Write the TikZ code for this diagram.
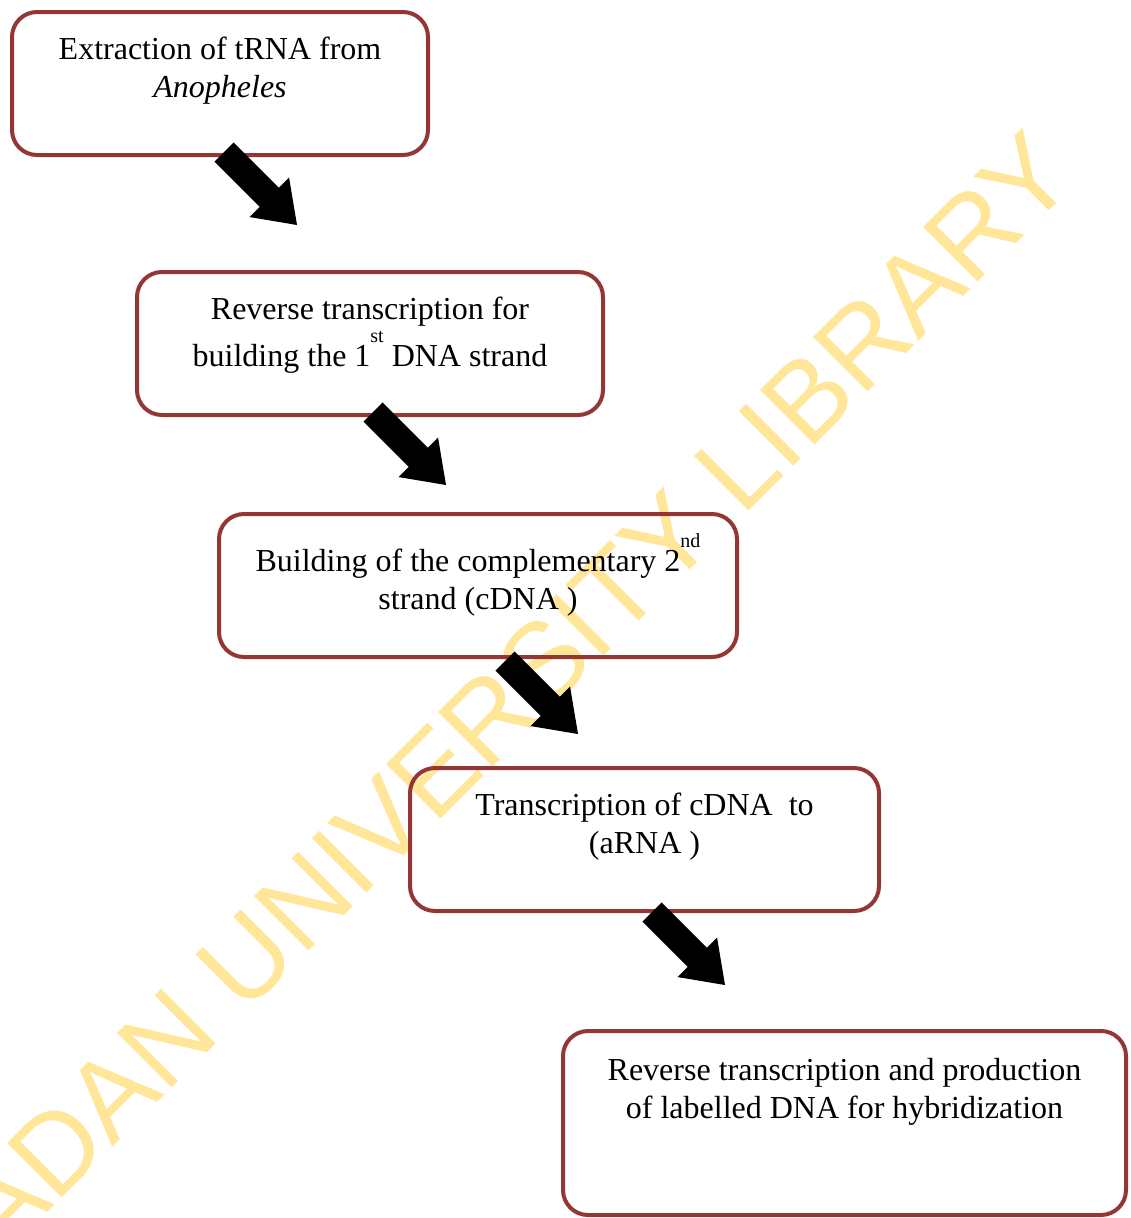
\documentclass[tikz,border=0pt]{standalone}
\usepackage{fontspec}
\setmainfont{Liberation Serif}
\newfontfamily\wmfont{Liberation Sans}
\usetikzlibrary{calc}
\definecolor{boxred}{HTML}{943634}
\definecolor{wmyellow}{HTML}{FFE699}
\tikzset{
  flowbox/.style={draw=boxred, line width=4pt, rounded corners=25pt, inner sep=0pt, outer sep=0pt, minimum height=143pt},
  boxtext/.style={anchor=base, inner sep=0pt, outer sep=0pt, font=\fontsize{32}{38}\selectfont},
  blockarrow/.style={fill=black, draw=none}
}
\newcommand{\supr}[1]{\raisebox{24pt}{\fontsize{20}{20}\selectfont #1}}
\newcommand{\drawblockarrow}[2]{%
  \coordinate (#1m) at ($(#1)!0.62!(#2)$);
  \fill[blockarrow] ($(#1)!13.5pt!90:(#2)$) -- ($(#1m)!13.5pt!90:(#2)$) -- ($(#1m)!28pt!90:(#2)$) -- (#2)
    -- ($(#1m)!28pt!-90:(#2)$) -- ($(#1m)!13.5pt!-90:(#2)$) -- ($(#1)!13.5pt!-90:(#2)$) -- cycle;
}
\begin{document}
\begin{tikzpicture}[x=1pt,y=-1pt]
\useasboundingbox (0,0) rectangle (1130,1218);
% watermark
\node[anchor=base west, rotate=45, inner sep=0pt, text=wmyellow,
      font=\wmfont\fontsize{112}{112}\selectfont] (wm) at (-72,1332) {IBADAN UNIVERSITY LIBRARY};
% boxes
\node[flowbox, minimum width=416pt] (b1) at (220,83.5) {};
\node[flowbox, minimum width=466pt] (b2) at (370,343.5) {};
\node[flowbox, minimum width=518pt] (b3) at (478,585.5) {};
\node[flowbox, minimum width=469pt] (b4) at (644.5,839.5) {};
\node[flowbox, minimum width=563pt, minimum height=184pt] (b5) at (844.5,1123) {};
% texts
\node[boxtext] (t1a) at (220,59) {Extraction of tRNA from};
\node[boxtext] (t1b) at (220,97) {\textit{Anopheles}};
\node[boxtext] (t2a) at (370,319) {Reverse transcription for};
\node[boxtext] (t2b) at (370,366) {building the 1\supr{st} DNA strand};
\node[boxtext] (t3a) at (478,571) {Building of the complementary 2\supr{nd}};
\node[boxtext] (t3b) at (478,609) {strand (cDNA )};
\node[boxtext] (t4a) at (644.5,815) {Transcription of cDNA\ \ to};
\node[boxtext] (t4b) at (644.5,853) {(aRNA )};
\node[boxtext] (t5a) at (844.5,1080) {Reverse transcription and production};
\node[boxtext] (t5b) at (844.5,1118) {of labelled DNA for hybridization};
% arrows
\coordinate (a1t) at ($(b1.south)+(4,-3)$);
\coordinate (a1h) at ($(a1t)+(73,73)$);
\coordinate (a2t) at ($(b2.south)+(3,-3)$);
\coordinate (a2h) at ($(a2t)+(73,73)$);
\coordinate (a3t) at ($(b3.south)+(27,4)$);
\coordinate (a3h) at ($(a3t)+(73,73)$);
\coordinate (a4t) at ($(b4.south)+(7.5,1)$);
\coordinate (a4h) at ($(a4t)+(73,73)$);
\drawblockarrow{a1t}{a1h}
\drawblockarrow{a2t}{a2h}
\drawblockarrow{a3t}{a3h}
\drawblockarrow{a4t}{a4h}
\end{tikzpicture}
\end{document}
